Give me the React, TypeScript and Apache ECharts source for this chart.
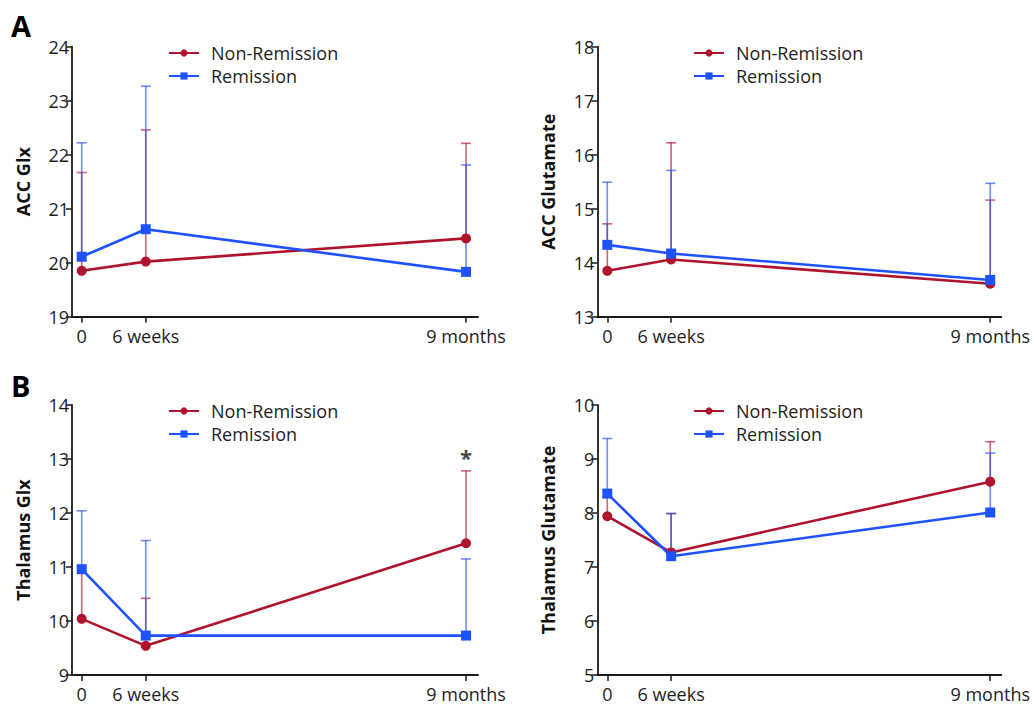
import { useEffect, useRef } from "react";
import * as echarts from "echarts";

// ---------- data ----------
const timePoints = [0, 1.5, 9]; // months
const tickLabels = ["0", "6 weeks", "9 months"];
const groupNames = ["Non-Remission", "Remission"];

// A, left: ACC Glx
const accGlxNonRem = [19.85, 20.02, 20.45];
const accGlxNonRemUpper = [21.67, 22.46, 22.21];
const accGlxRem = [20.11, 20.62, 19.83];
const accGlxRemUpper = [22.22, 23.27, 21.81];

// A, right: ACC Glutamate
const accGluNonRem = [13.85, 14.06, 13.61];
const accGluNonRemUpper = [14.72, 16.22, 15.16];
const accGluRem = [14.33, 14.17, 13.68];
const accGluRemUpper = [15.49, 15.71, 15.47];

// B, left: Thalamus Glx
const thalGlxNonRem = [10.04, 9.54, 11.44];
const thalGlxNonRemUpper = [11.02, 10.42, 12.78];
const thalGlxRem = [10.96, 9.73, 9.73];
const thalGlxRemUpper = [12.04, 11.49, 11.15];

// B, right: Thalamus Glutamate
const thalGluNonRem = [7.94, 7.27, 8.58];
const thalGluNonRemUpper = [8.3, 7.99, 9.32];
const thalGluRem = [8.36, 7.2, 8.01];
const thalGluRemUpper = [9.38, 7.99, 9.11];

const yTitles = ["ACC Glx", "ACC Glutamate", "Thalamus Glx", "Thalamus Glutamate"];
const yMins = [19, 13, 9, 5];
const yMaxs = [24, 18, 14, 10];

// significance marker (panel index, x, y)
const starMarks = [{ panel: 2, x: 9, y: 13.04, text: "*" }];

const panelLetters = ["A", "B"];

// ---------- styling ----------
const RED = "#B0132E";
const BLUE = "#1F52FF";
const AXIS = "#1a1a1a";
const FONT = "'Open Sans', 'Noto Sans', sans-serif";

const panels = [
  { nonRem: accGlxNonRem, nonRemUp: accGlxNonRemUpper, rem: accGlxRem, remUp: accGlxRemUpper },
  { nonRem: accGluNonRem, nonRemUp: accGluNonRemUpper, rem: accGluRem, remUp: accGluRemUpper },
  { nonRem: thalGlxNonRem, nonRemUp: thalGlxNonRemUpper, rem: thalGlxRem, remUp: thalGlxRemUpper },
  { nonRem: thalGluNonRem, nonRemUp: thalGluNonRemUpper, rem: thalGluRem, remUp: thalGluRemUpper },
];

const gridPos = [
  { left: 72, top: 46.7, width: 406, height: 270 },
  { left: 597.3, top: 46.7, width: 404, height: 270 },
  { left: 72, top: 405, width: 406, height: 270 },
  { left: 597.3, top: 405, width: 404, height: 270 },
];
const xRanges = [
  [-0.227, 9.28],
  [-0.235, 9.26],
  [-0.227, 9.28],
  [-0.235, 9.26],
];
const legendPos = [
  { left: 163, top: 39 },
  { left: 688, top: 39 },
  { left: 163, top: 397 },
  { left: 688, top: 397 },
];

function errorBarSeries(panel: number, values: number[], uppers: number[], color: string, name: string) {
  return {
    type: "custom",
    name,
    xAxisIndex: panel,
    yAxisIndex: panel,
    z: 1,
    silent: true,
    data: timePoints.map((t, i) => [t, values[i], uppers[i]]),
    renderItem: (_params: any, api: any) => {
      const p0 = api.coord([api.value(0), api.value(1)]);
      const p1 = api.coord([api.value(0), api.value(2)]);
      const style = { stroke: color, lineWidth: 1.6, opacity: 0.65 };
      return {
        type: "group",
        children: [
          { type: "line", shape: { x1: p0[0], y1: p0[1], x2: p1[0], y2: p1[1] }, style },
          { type: "line", shape: { x1: p1[0] - 5, y1: p1[1], x2: p1[0] + 5, y2: p1[1] }, style },
        ],
      };
    },
  };
}

function lineSeries(panel: number, values: number[], name: string, color: string, symbol: string, size: number) {
  return {
    type: "line",
    name,
    xAxisIndex: panel,
    yAxisIndex: panel,
    z: 3,
    data: timePoints.map((t, i) => [t, values[i]]),
    symbol,
    symbolSize: size,
    showSymbol: true,
    itemStyle: { color },
    lineStyle: { color, width: 2.6 },
  };
}

export default function App() {
  const ref = useRef<HTMLDivElement>(null);

  useEffect(() => {
    if (!ref.current) return;
    const chart = echarts.init(ref.current, undefined, { renderer: "svg" });

    const grid = gridPos.map((g) => ({ ...g, containLabel: false }));
    const xAxis = gridPos.map((_, i) => ({
      type: "value",
      gridIndex: i,
      min: xRanges[i][0],
      max: xRanges[i][1],
      splitLine: { show: false },
      axisLine: { show: true, onZero: false, lineStyle: { color: AXIS, width: 1.8 } },
      axisTick: { show: true, length: 6, customValues: timePoints, lineStyle: { color: AXIS, width: 1.5 } },
      axisLabel: {
        show: true,
        customValues: timePoints,
        margin: 10,
        fontSize: 18,
        color: "#1e1e1e",
        fontFamily: FONT,
        formatter: (v: number) => {
          const idx = timePoints.indexOf(v);
          return idx >= 0 ? tickLabels[idx] : "";
        },
      },
    }));
    const yAxis = gridPos.map((_, i) => ({
      type: "value",
      gridIndex: i,
      min: yMins[i],
      max: yMaxs[i],
      interval: 1,
      name: yTitles[i],
      nameLocation: "middle",
      nameGap: 40,
      nameTextStyle: { fontSize: 18, fontWeight: "bold", color: "#111", fontFamily: FONT },
      splitLine: { show: false },
      axisLine: { show: true, onZero: false, lineStyle: { color: AXIS, width: 1.8 } },
      axisTick: { show: true, length: 6, lineStyle: { color: AXIS, width: 1.5 } },
      axisLabel: { margin: 3, fontSize: 18, color: "#1e1e1e", fontFamily: FONT },
    }));

    const series: any[] = [];
    panels.forEach((p, i) => {
      series.push(lineSeries(i, p.nonRem, groupNames[0], RED, "circle", 10));
      series.push(lineSeries(i, p.rem, groupNames[1], BLUE, "rect", 10));
      series.push(errorBarSeries(i, p.nonRem, p.nonRemUp, RED, groupNames[0] + " error"));
      series.push(errorBarSeries(i, p.rem, p.remUp, BLUE, groupNames[1] + " error"));
    });
    starMarks.forEach((s) => {
      series.push({
        type: "scatter",
        xAxisIndex: s.panel,
        yAxisIndex: s.panel,
        symbol: "circle",
        symbolSize: 1,
        itemStyle: { color: "rgba(0,0,0,0)" },
        silent: true,
        z: 5,
        data: [[s.x, s.y]],
        label: {
          show: true,
          position: "inside",
          formatter: s.text,
          fontSize: 22,
          fontWeight: "bold",
          color: "#111",
          fontFamily: FONT,
        },
      });
    });

    const legend = legendPos.map((lp) => ({
      orient: "vertical",
      left: lp.left,
      top: lp.top,
      itemWidth: 30,
      itemHeight: 9,
      itemGap: 5,
      data: groupNames.map((n) => ({ name: n })),
      textStyle: { fontSize: 18, color: "#1e1e1e", fontFamily: FONT, padding: [0, 0, 0, 7] },
    }));

    chart.setOption({
      animation: false,
      backgroundColor: "#ffffff",
      grid,
      xAxis,
      yAxis,
      legend,
      series,
      graphic: panelLetters.map((letter, i) => ({
        type: "text",
        left: 11,
        top: i === 0 ? 11 : 371,
        style: { text: letter, fontSize: 29, fontWeight: "bold", fill: "#000", fontFamily: FONT },
      })),
    });

    return () => chart.dispose();
  }, []);

  return <div ref={ref} style={{ position: "fixed", left: 0, top: 0, width: 1034, height: 710 }} />;
}
